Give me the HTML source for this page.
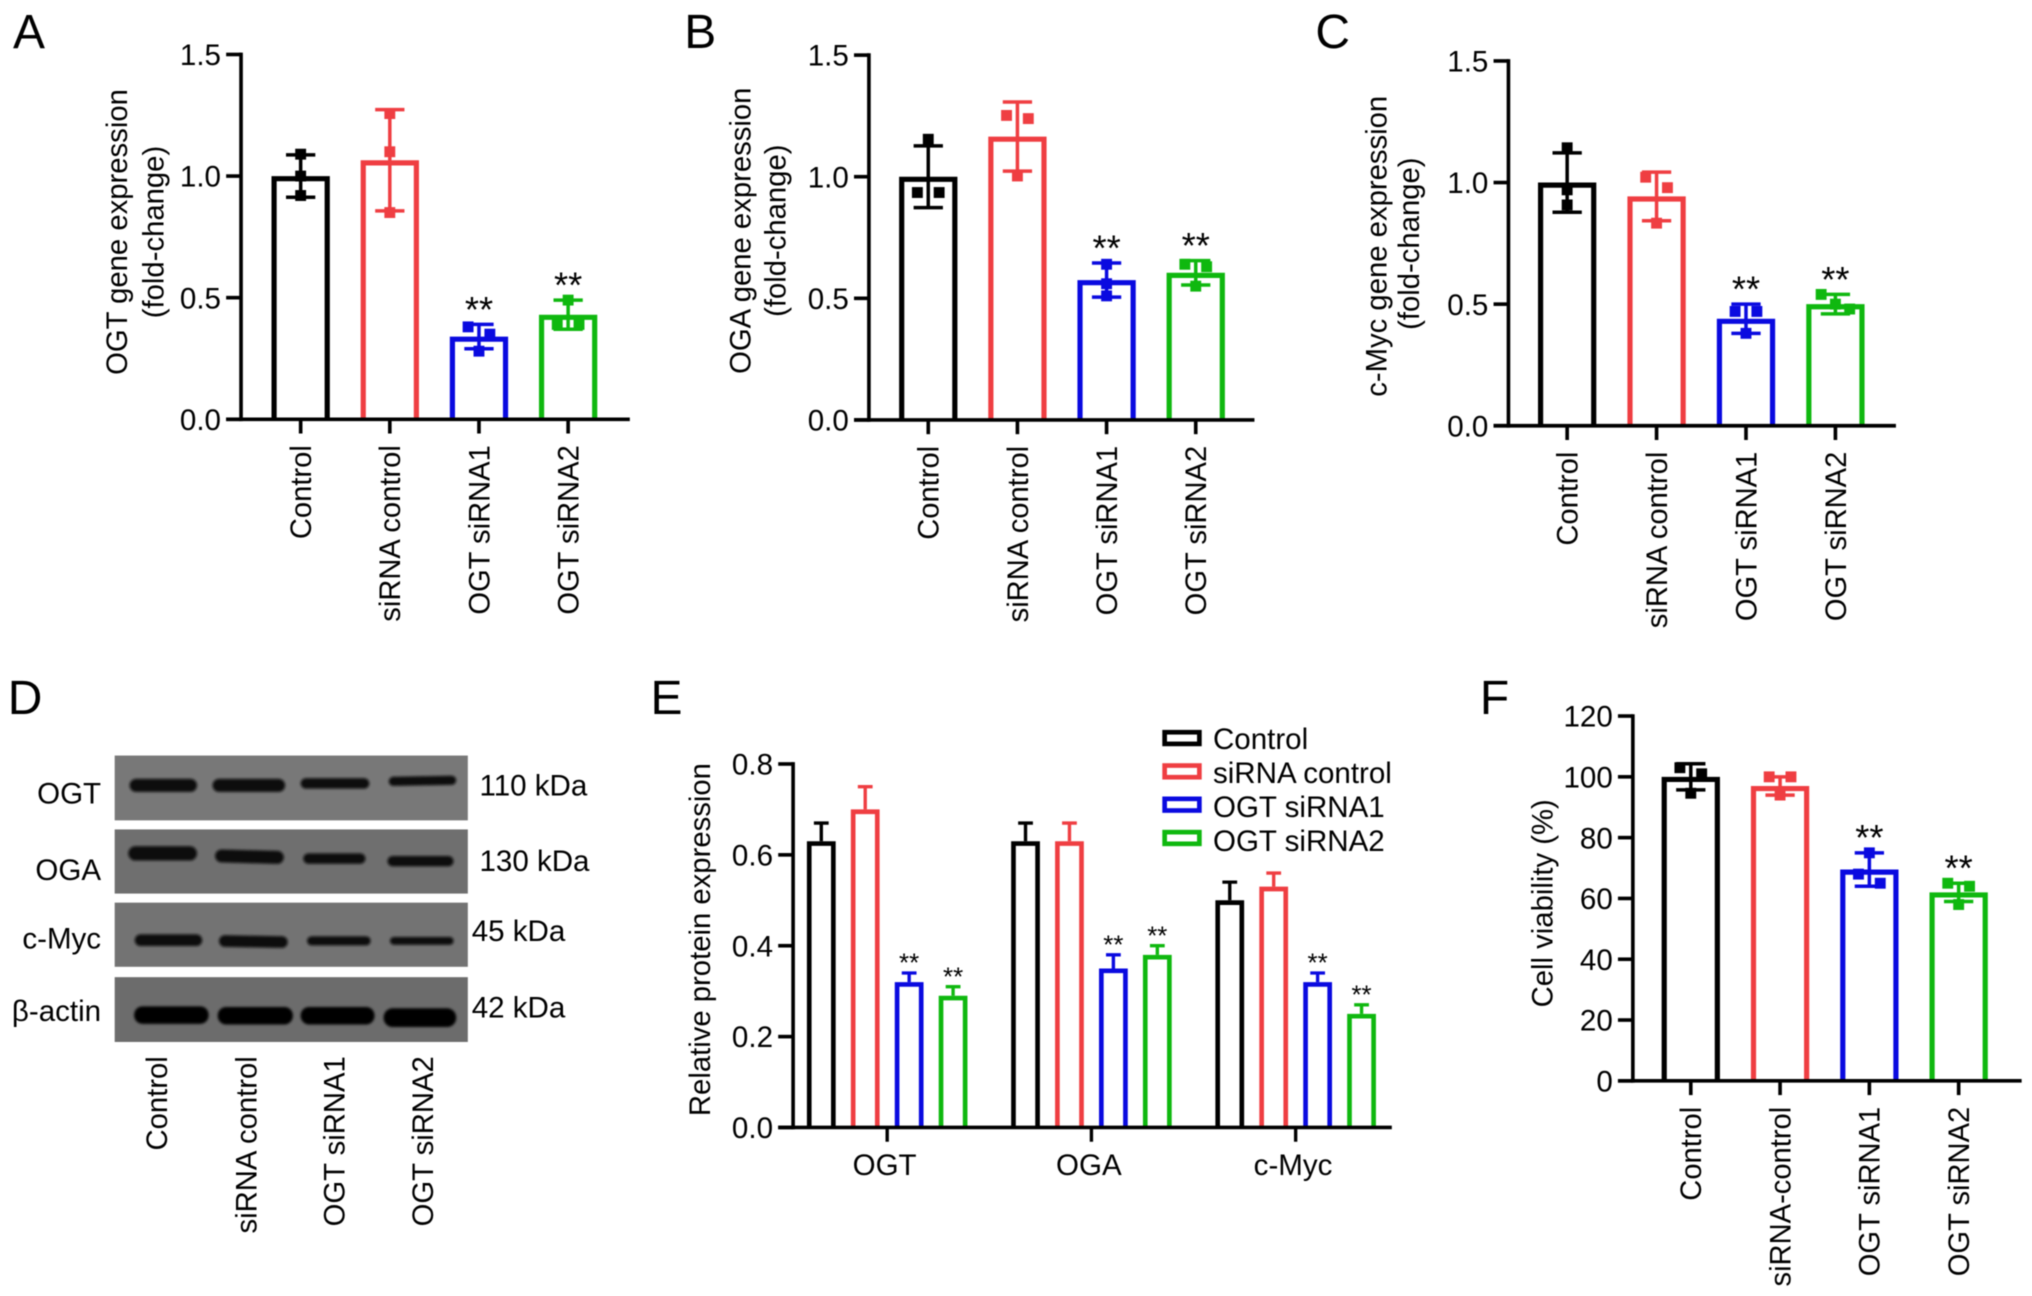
<!DOCTYPE html>
<html lang="en">
<head>
<meta charset="utf-8">
<title>OGT knockdown figure</title>
<style>
html,body{margin:0;padding:0;background:#fff;width:2032px;height:1296px;overflow:hidden}
svg{display:block;font-family:"Liberation Sans",Arial,sans-serif;filter:blur(0.45px)}
</style>
</head>
<body>
<svg id="figure" xmlns="http://www.w3.org/2000/svg" width="2032" height="1296" viewBox="0 0 1568 1000">
  <defs>
    <filter id="soft" x="-10%" y="-60%" width="120%" height="220%"><feGaussianBlur stdDeviation="1.1"/></filter>
  </defs>
  <rect width="1568" height="1000" fill="#fff"/>
  <g font-size="37" fill="#000">
    <text x="10" y="37">A</text>
    <text x="528" y="37">B</text>
    <text x="1015" y="37">C</text>
    <text x="6" y="551">D</text>
    <text x="502" y="551">E</text>
    <text x="1142" y="551">F</text>
  </g>
  <g>
    <g>
      <rect x="88.5" y="583" width="272.5" height="50" fill="#787878"/>
      <g fill="#0c0c0c" filter="url(#soft)">
        <rect x="100" y="601" width="52" height="10" rx="5"/>
        <rect x="164" y="601" width="56" height="10" rx="5"/>
        <rect x="232" y="600.5" width="53" height="8" rx="4"/>
        <rect x="300" y="599" width="52" height="7" rx="3.5" transform="rotate(-1 326 603)"/>
      </g>
    </g>
    <g>
      <rect x="88.5" y="640" width="272.5" height="49.5" fill="#6f6f6f"/>
      <g fill="#0c0c0c" filter="url(#soft)">
        <rect x="99" y="653" width="53" height="11" rx="5.5"/>
        <rect x="166" y="656" width="53" height="10" rx="5" transform="rotate(1.5 192 661)"/>
        <rect x="234" y="658.5" width="48" height="8" rx="4"/>
        <rect x="299" y="660.5" width="51" height="8" rx="4"/>
      </g>
    </g>
    <g>
      <rect x="88.5" y="696.5" width="272.5" height="49.5" fill="#737373"/>
      <g fill="#0c0c0c" filter="url(#soft)">
        <rect x="104" y="721" width="52" height="9" rx="4.5"/>
        <rect x="169" y="722" width="53" height="9" rx="4.5" transform="rotate(1 195 727)"/>
        <rect x="237" y="722.5" width="49" height="7" rx="3.5"/>
        <rect x="301" y="723" width="49" height="6" rx="3"/>
      </g>
    </g>
    <g>
      <rect x="88.5" y="754" width="272.5" height="50" fill="#6c6c6c"/>
      <g fill="#060606" filter="url(#soft)">
        <rect x="103.5" y="776.5" width="57.5" height="13.5" rx="6.5"/>
        <rect x="168" y="777" width="58" height="13.5" rx="6.5"/>
        <rect x="232" y="777" width="57" height="13.5" rx="6.5"/>
        <rect x="296" y="778" width="56" height="14.5" rx="7"/>
      </g>
    </g>
    <g font-size="22.8" text-anchor="end" fill="#000">
      <text x="78" y="620">OGT</text>
      <text x="78" y="679">OGA</text>
      <text x="78" y="732">c-Myc</text>
      <text x="78" y="788" font-family="'Liberation Sans','DejaVu Sans',sans-serif">β-actin</text>
    </g>
    <g font-size="22.8" fill="#000">
      <text x="370" y="614">110 kDa</text>
      <text x="370" y="672">130 kDa</text>
      <text x="364" y="726">45 kDa</text>
      <text x="364" y="785">42 kDa</text>
    </g>
    <g font-size="22.6" text-anchor="end" fill="#000">
      <text transform="translate(129 815) rotate(-90)">Control</text>
      <text transform="translate(198 815) rotate(-90)">siRNA control</text>
      <text transform="translate(266 815) rotate(-90)">OGT siRNA1</text>
      <text transform="translate(334 815) rotate(-90)">OGT siRNA2</text>
    </g>
  </g>
  <g id="charts"></g>
</svg>
<script>
// ---- shared categories ----
const categories = ['Control', 'siRNA control', 'OGT siRNA1', 'OGT siRNA2'];
const categoriesF = ['Control', 'siRNA-control', 'OGT siRNA1', 'OGT siRNA2'];
const seriesColors = ['#000000', '#ef3e42', '#0a0ae0', '#0fb80f'];
const significant = [false, false, true, true];

// ---- panel A ----
const ticksA = ['0.0', '0.5', '1.0', '1.5'];
const meansA = [1.0, 1.065, 0.34, 0.43];
const sdA = [0.087, 0.208, 0.05, 0.06];
const pointsA = [[1.09, 1.0, 0.92], [1.257, 1.10, 0.85], [0.38, 0.35, 0.28], [0.49, 0.39, 0.39]];

// ---- panel B ----
const ticksB = ['0.0', '0.5', '1.0', '1.5'];
const meansB = [1.0, 1.165, 0.575, 0.605];
const sdB = [0.127, 0.142, 0.07, 0.05];
const pointsB = [[1.154, 0.935, 0.935], [1.252, 1.239, 1.003], [0.64, 0.56, 0.51], [0.64, 0.63, 0.55]];

// ---- panel C ----
const ticksC = ['0.0', '0.5', '1.0', '1.5'];
const meansC = [1.0, 0.943, 0.44, 0.50];
const sdC = [0.122, 0.10, 0.06, 0.04];
const pointsC = [[1.143, 0.97, 0.908], [1.022, 0.979, 0.833], [0.47, 0.47, 0.38], [0.54, 0.50, 0.48]];

// ---- panel F ----
const ticksF = ['0', '20', '40', '60', '80', '100', '120'];
const meansF = [100, 97, 69.5, 62];
const sdF = [4.3, 3, 5.5, 3];
const pointsF = [[103, 101, 94.6], [100, 100, 94], [75, 68, 65], [65, 64, 58]];

// ---- panel E ----
const ticksE = ['0.0', '0.2', '0.4', '0.6', '0.8'];
const groupsE = ['OGT', 'OGA', 'c-Myc'];
const controlE = [0.63, 0.63, 0.50];
const siControlE = [0.70, 0.63, 0.53];
const sirna1E = [0.32, 0.35, 0.32];
const sirna2E = [0.29, 0.38, 0.25];
const controlErrE = [0.04, 0.04, 0.04];
const siControlErrE = [0.05, 0.04, 0.03];
const sirna1ErrE = [0.02, 0.03, 0.02];
const sirna2ErrE = [0.02, 0.02, 0.02];

const NS = 'http://www.w3.org/2000/svg';
const root = document.getElementById('charts');

function make(tag, attrs, parent, text) {
  const node = document.createElementNS(NS, tag);
  for (const k in attrs) node.setAttribute(k, attrs[k]);
  if (text !== undefined) node.textContent = text;
  parent.appendChild(node);
  return node;
}
function scaleLinear(d0, d1, r0, r1) {
  return v => r0 + (v - d0) * (r1 - r0) / (d1 - d0);
}

function drawAxes(g, o, y, ticks) {
  const yLine = make('line', {x1: o.axisX, x2: o.axisX, y1: y(parseFloat(ticks[ticks.length - 1])) - 1.4, y2: o.base + 1.4, stroke: '#000', 'stroke-width': 2.8}, g);
  
  
  const xLine = make('line', {x1: o.axisX - 11.5, x2: o.axisEnd, y1: o.base, y2: o.base, stroke: '#000', 'stroke-width': 2.8}, g);
  
  
  ticks.forEach(t => {
    const v = parseFloat(t);
    const mark = make('line', {x1: o.axisX - 11.5, x2: o.axisX, y1: y(v), y2: y(v), stroke: '#000', 'stroke-width': 2.8}, g);
    
    
    const lab = make('text', {x: o.axisX - 15.5, y: y(v) + 8.2, 'text-anchor': 'end', 'font-size': 22.8, fill: '#000'}, g, t);
    
    
  });
}

function drawTitle(g, cx, cy, label) {
  const t = make('text', {transform: 'translate(' + (cx + 8) + ' ' + cy + ') rotate(-90)', 'text-anchor': 'middle', 'font-size': 22.6, fill: '#000'}, g, label);
  
  
}

// GraphPad-like swarm: points that would overlap are spread sideways
function swarmOffsets(values, y, gap) {
  const order = values.map((v, i) => i).sort((a, b) => values[b] - values[a]);
  const off = values.map(() => 0);
  let i = 0;
  while (i < order.length) {
    let j = i;
    while (j + 1 < order.length && Math.abs(y(values[order[j + 1]]) - y(values[order[j]])) < gap) j++;
    const n = j - i + 1;
    const pitch = n === 2 ? 16.8 : 11;
    for (let k = 0; k < n; k++) off[order[i + k]] = (k - (n - 1) / 2) * pitch;
    i = j + 1;
  }
  return off;
}

function drawScatterBars(name, o, ticks, labels, means, sds, points) {
  const g = make('g', {}, root);
  
  
  const maxTick = parseFloat(ticks[ticks.length - 1]);
  const y = scaleLinear(0, maxTick, o.base, o.top);
  const x = i => o.firstX + i * o.stepX;
  means.forEach((m, i) => {
    const color = seriesColors[i];
    const bar = make('path', {d: 'M' + (x(i) - 20.5) + ' ' + o.base + 'V' + (y(m) + 2) + 'H' + (x(i) + 20.5) + 'V' + o.base, fill: 'none', stroke: color, 'stroke-width': 4}, g);
    
    
    const top = y(m + sds[i]), bot = y(m - sds[i]);
    const err = make('path', {d: 'M' + (x(i) - 11.3) + ' ' + top + 'H' + (x(i) + 11.3) + 'M' + x(i) + ' ' + top + 'V' + bot + 'M' + (x(i) - 11.3) + ' ' + bot + 'H' + (x(i) + 11.3), fill: 'none', stroke: color, 'stroke-width': 2.7}, g);
    
    
    const offs = swarmOffsets(points[i], y, 9);
    points[i].forEach((p, k) => {
      const pt = make('rect', {x: x(i) + offs[k] - 4.2, y: y(p) - 4.2, width: 8.4, height: 8.4, fill: color}, g);
      
      
    });
    if (significant[i]) {
      const high = Math.min(top, y(Math.max.apply(null, points[i])));
      const star = make('text', {x: x(i), y: high - 2, 'text-anchor': 'middle', 'font-size': 28, fill: '#000'}, g, '**');
      
      
    }
    const tick = make('line', {x1: x(i), x2: x(i), y1: o.base, y2: o.base + 11, stroke: '#000', 'stroke-width': 2.8}, g);
    
    
    const lab = make('text', {transform: 'translate(' + (x(i) + 8) + ' ' + (o.base + 20) + ') rotate(-90)', 'text-anchor': 'end', 'font-size': 22.5, fill: '#000'}, g, labels[i]);
    
    
  });
  drawAxes(g, o, y, ticks);
  o.titles.forEach(t => drawTitle(g, t[0], t[1], t[2]));
}

drawScatterBars('chart-a-ogt-expression',
  {axisX: 186, axisEnd: 486, base: 323.5, top: 42, firstX: 232, stepX: 68.8, titles: [[90, 179, 'OGT gene expression'], [118, 179, '(fold-change)']]},
  ticksA, categories, meansA, sdA, pointsA);
drawScatterBars('chart-b-oga-expression',
  {axisX: 670.5, axisEnd: 968, base: 324, top: 42.5, firstX: 716.3, stepX: 68.8, titles: [[571, 178, 'OGA gene expression'], [598, 178, '(fold-change)']]},
  ticksB, categories, meansB, sdB, pointsB);
drawScatterBars('chart-c-c-myc-expression',
  {axisX: 1164, axisEnd: 1463, base: 328.5, top: 47, firstX: 1209.3, stepX: 69, titles: [[1062, 190, 'c-Myc gene expression'], [1087, 188, '(fold-change)']]},
  ticksC, categories, meansC, sdC, pointsC);
drawScatterBars('chart-f-cell-viability',
  {axisX: 1260, axisEnd: 1560, base: 834, top: 552.5, firstX: 1304.7, stepX: 68.9, titles: [[1190, 697, 'Cell viability (%)']]},
  ticksF, categoriesF, meansF, sdF, pointsF);

// ---- panel E: grouped bars ----
(function () {
  const g = make('g', {}, root);
  
  
  const o = {axisX: 612, axisEnd: 1074, base: 870, top: 589.5};
  const y = scaleLinear(0, 0.8, o.base, o.top);
  const groupX = i => 684.6 + i * 157.6;
  const barX = (i, s) => groupX(i) + (s - 1.5) * 33.9;
  const series = [controlE, siControlE, sirna1E, sirna2E];
  const errors = [controlErrE, siControlErrE, sirna1ErrE, sirna2ErrE];
  groupsE.forEach((name, i) => {
    series.forEach((vals, s) => {
      const color = seriesColors[s];
      const bx = barX(i, s);
      const bar = make('path', {d: 'M' + (bx - 9.3) + ' ' + o.base + 'V' + (y(vals[i]) + 1.8) + 'H' + (bx + 9.3) + 'V' + o.base, fill: 'none', stroke: color, 'stroke-width': 3.6}, g);
      
      
      const top = y(vals[i] + errors[s][i]);
      const err = make('path', {d: 'M' + (bx - 5.7) + ' ' + top + 'H' + (bx + 5.7) + 'M' + bx + ' ' + top + 'V' + y(vals[i]), fill: 'none', stroke: color, 'stroke-width': 2.6}, g);
      
      
      if (significant[s]) {
        const star = make('text', {x: bx, y: top - 1, 'text-anchor': 'middle', 'font-size': 20, fill: '#000'}, g, '**');
        
        
      }
    });
    const tick = make('line', {x1: groupX(i), x2: groupX(i), y1: o.base, y2: o.base + 11, stroke: '#000', 'stroke-width': 2.6}, g);
    
    
    const lab = make('text', {x: groupX(i) - 2, y: 906.5, 'text-anchor': 'middle', 'font-size': 22.8, fill: '#000'}, g, name);
    
    
  });
  drawAxes(g, o, y, ticksE);
  drawTitle(g, 540, 725, 'Relative protein expression');
  categories.forEach((c, s) => {
    const swatch = make('rect', {x: 898.7, y: 565 + s * 25.7, width: 26.8, height: 9, fill: 'none', stroke: seriesColors[s], 'stroke-width': 3.6}, g);
    
    
    const lt = make('text', {x: 936, y: 578 + s * 26.2, 'font-size': 22.8, fill: '#000'}, g, c);
    
    
  });
})();
</script>
</body>
</html>
